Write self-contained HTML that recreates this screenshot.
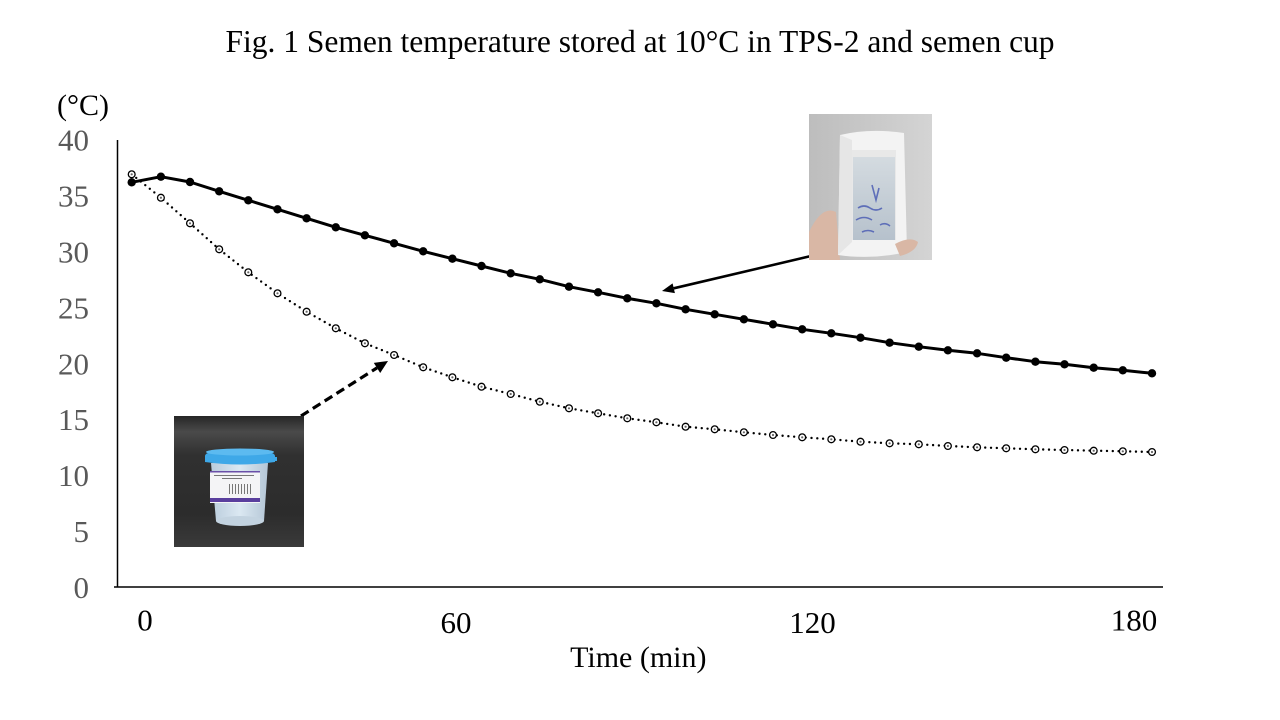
<!DOCTYPE html>
<html>
<head>
<meta charset="utf-8">
<style>
  html,body{margin:0;padding:0;background:#fff;}
  svg{display:block;}
  text{font-family:"Liberation Serif","Times New Roman",serif;}
</style>
</head>
<body>
<svg width="1280" height="720" viewBox="0 0 1280 720" xmlns="http://www.w3.org/2000/svg">
  <defs>
    <marker id="mFill" markerUnits="userSpaceOnUse" markerWidth="12" markerHeight="12" refX="6" refY="6" viewBox="0 0 12 12">
      <circle cx="6" cy="6" r="4.2" fill="#000"/>
    </marker>
    <marker id="mOpen" markerUnits="userSpaceOnUse" markerWidth="12" markerHeight="12" refX="6" refY="6" viewBox="0 0 12 12">
      <circle cx="6" cy="6" r="3.4" fill="#fff" stroke="#000" stroke-width="1.3"/>
      <circle cx="6" cy="6" r="1.1" fill="#666"/>
    </marker>
    <linearGradient id="cupBg" x1="0" y1="0" x2="0" y2="1">
      <stop offset="0" stop-color="#262626"/>
      <stop offset="0.12" stop-color="#4a4a4a"/>
      <stop offset="0.3" stop-color="#303030"/>
      <stop offset="0.75" stop-color="#2c2c2c"/>
      <stop offset="1" stop-color="#3a3a3a"/>
    </linearGradient>
    <linearGradient id="cupBody" x1="0" y1="0" x2="1" y2="0">
      <stop offset="0" stop-color="#b9ccdc"/>
      <stop offset="0.5" stop-color="#dbe8f2"/>
      <stop offset="1" stop-color="#b4c6d6"/>
    </linearGradient>
    <linearGradient id="tpsBg" x1="0" y1="0" x2="1" y2="0">
      <stop offset="0" stop-color="#bdbdbd"/>
      <stop offset="1" stop-color="#d4d4d4"/>
    </linearGradient>
    <linearGradient id="tpsWin" x1="0" y1="0" x2="0" y2="1">
      <stop offset="0" stop-color="#d4dbe0"/>
      <stop offset="1" stop-color="#b6c1cc"/>
    </linearGradient>
  </defs>

  <!-- Title -->
  <text x="640" y="52" font-size="31.5" text-anchor="middle" fill="#000">Fig. 1 Semen temperature stored at 10°C in TPS-2 and semen cup</text>

  <!-- Unit label -->
  <text x="57" y="115" font-size="30" fill="#000">(°C)</text>

  <!-- Y tick labels -->
  <g font-size="31" fill="#595959" text-anchor="end">
    <text x="89" y="150.7">40</text>
    <text x="89" y="206.6">35</text>
    <text x="89" y="262.5">30</text>
    <text x="89" y="318.4">25</text>
    <text x="89" y="374.3">20</text>
    <text x="89" y="430.2">15</text>
    <text x="89" y="486.1">10</text>
    <text x="89" y="542">5</text>
    <text x="89" y="597.9">0</text>
  </g>

  <!-- Axes -->
  <line x1="117.5" y1="140" x2="117.5" y2="587.5" stroke="#000" stroke-width="1.5"/>
  <line x1="114" y1="587" x2="1163" y2="587" stroke="#000" stroke-width="1.5"/>

  <!-- X tick labels -->
  <g font-size="31" fill="#000" text-anchor="middle">
    <text x="145" y="630.5">0</text>
    <text x="456" y="633">60</text>
    <text x="812.5" y="633">120</text>
    <text x="1134" y="630.5">180</text>
  </g>
  <text x="638.3" y="667" font-size="30" text-anchor="middle" fill="#000">Time (min)</text>

  <!-- Dotted series (semen cup) -->
  <polyline fill="none" stroke="#000" stroke-width="2.4" stroke-linecap="round" stroke-dasharray="0 5.8"
    points="131.7,174.3 160.9,197.7 190,223.3 219.2,249.3 248.3,272.3 277.5,293.3 306.6,311.7 335.8,328.3 364.9,343.3 394.1,355 423.2,367.3 452.4,377.3 481.5,386.7 510.7,394 539.8,401.7 569,408.3 598.1,413.3 627.3,418.3 656.4,422.3 685.6,426.7 714.7,429.3 743.9,432.3 773,435 802.2,437.3 831.3,439.3 860.5,441.7 889.6,443.3 918.8,444.3 947.9,446 977.1,447.3 1006.2,448.3 1035.4,449.3 1064.5,450 1093.7,450.7 1122.8,451.3 1152,452"/>
  <polyline fill="none" stroke="none" marker-start="url(#mOpen)" marker-mid="url(#mOpen)" marker-end="url(#mOpen)"
    points="131.7,174.3 160.9,197.7 190,223.3 219.2,249.3 248.3,272.3 277.5,293.3 306.6,311.7 335.8,328.3 364.9,343.3 394.1,355 423.2,367.3 452.4,377.3 481.5,386.7 510.7,394 539.8,401.7 569,408.3 598.1,413.3 627.3,418.3 656.4,422.3 685.6,426.7 714.7,429.3 743.9,432.3 773,435 802.2,437.3 831.3,439.3 860.5,441.7 889.6,443.3 918.8,444.3 947.9,446 977.1,447.3 1006.2,448.3 1035.4,449.3 1064.5,450 1093.7,450.7 1122.8,451.3 1152,452"/>

  <!-- Solid series (TPS-2) -->
  <polyline fill="none" stroke="#000" stroke-width="3" stroke-linejoin="round"
    marker-start="url(#mFill)" marker-mid="url(#mFill)" marker-end="url(#mFill)"
    points="131.7,182.3 160.9,176.7 190,182 219.2,191.3 248.3,200.3 277.5,209.3 306.6,218.3 335.8,227.3 364.9,235.3 394.1,243.3 423.2,251.3 452.4,258.7 481.5,266 510.7,273.3 539.8,279.3 569,286.7 598.1,292.3 627.3,298.3 656.4,303.3 685.6,309.3 714.7,314.3 743.9,319.3 773,324.3 802.2,329.3 831.3,333.3 860.5,337.7 889.6,342.7 918.8,346.7 947.9,350.3 977.1,353.3 1006.2,357.7 1035.4,361.7 1064.5,364.3 1093.7,367.7 1122.8,370.3 1152,373.3"/>

  <!-- Solid arrow from TPS photo -->
  <line x1="811" y1="256" x2="673.7" y2="288.3" stroke="#000" stroke-width="2.6"/>
  <polygon points="662,291 674.9,293.1 672.6,283.4" fill="#000"/>

  <!-- Dashed arrow from cup photo -->
  <line x1="301" y1="416" x2="377" y2="367.9" stroke="#000" stroke-width="3.2" stroke-dasharray="9 5"/>
  <polygon points="388,361 380.2,373 373.8,362.9" fill="#000"/>

  <!-- Cup photo -->
  <g>
    <rect x="174" y="416" width="130" height="131" fill="url(#cupBg)"/>
    <!-- body -->
    <path d="M211,463 L268,463 L264,521 Q240,529 216,521 Z" fill="url(#cupBody)"/>
    <ellipse cx="240" cy="521" rx="24" ry="5" fill="#c3d3e0"/>
    <!-- label -->
    <rect x="210" y="471" width="50" height="32" fill="#f4f4f6"/>
    <rect x="210" y="471" width="50" height="1.5" fill="#6a4fa8"/>
    <rect x="210" y="498" width="50" height="4" fill="#5a3f9e"/>
    <g fill="#777">
      <rect x="214" y="475" width="40" height="1"/>
      <rect x="222" y="478" width="20" height="1"/>
      <rect x="229" y="484" width="1" height="10"/>
      <rect x="232" y="484" width="1" height="10"/>
      <rect x="235" y="484" width="1" height="10"/>
      <rect x="238" y="484" width="1" height="10"/>
      <rect x="241" y="484" width="1" height="10"/>
      <rect x="244" y="484" width="1" height="10"/>
      <rect x="247" y="484" width="1" height="10"/>
      <rect x="250" y="484" width="1" height="10"/>
    </g>
    <!-- lid -->
    <path d="M205,456 Q205,450 240,449 Q275,450 275,456 L275,462 Q240,467 205,462 Z" fill="#3ea8e8"/>
    <ellipse cx="240" cy="452" rx="34" ry="3.5" fill="#5cbaf0"/>
    <rect x="274" y="457" width="3" height="4" fill="#3ea8e8"/>
  </g>

  <!-- TPS-2 photo -->
  <g>
    <rect x="809" y="114" width="123" height="146" fill="url(#tpsBg)"/>
    <!-- hand left -->
    <path d="M809,232 Q822,205 836,212 L840,260 L809,260 Z" fill="#d9b7a5"/>
    <!-- foam block -->
    <path d="M840,135 Q870,128 904,133 L907,252 Q872,260 838,255 Z" fill="#f3f3f3"/>
    <path d="M840,135 L852,140 L852,242 L838,255 Z" fill="#e6e6e6"/>
    <!-- window -->
    <rect x="852" y="150" width="44" height="90" fill="#e8e8e8"/>
    <rect x="853" y="157" width="42" height="83" fill="url(#tpsWin)"/>
    <g stroke="#4e5fb4" stroke-width="1.6" fill="none" opacity="0.85">
      <path d="M858,208 q6,-4 12,0 t12,0"/>
      <path d="M856,220 q8,-5 16,0"/>
      <path d="M872,185 l4,15 l3,-12"/>
      <path d="M880,225 q5,-3 10,1"/>
      <path d="M862,232 q6,-3 12,0"/>
    </g>
    <!-- fingers right -->
    <path d="M895,244 Q910,236 918,242 Q916,252 900,256 Z" fill="#d9b7a5"/>
  </g>
</svg>
</body>
</html>
